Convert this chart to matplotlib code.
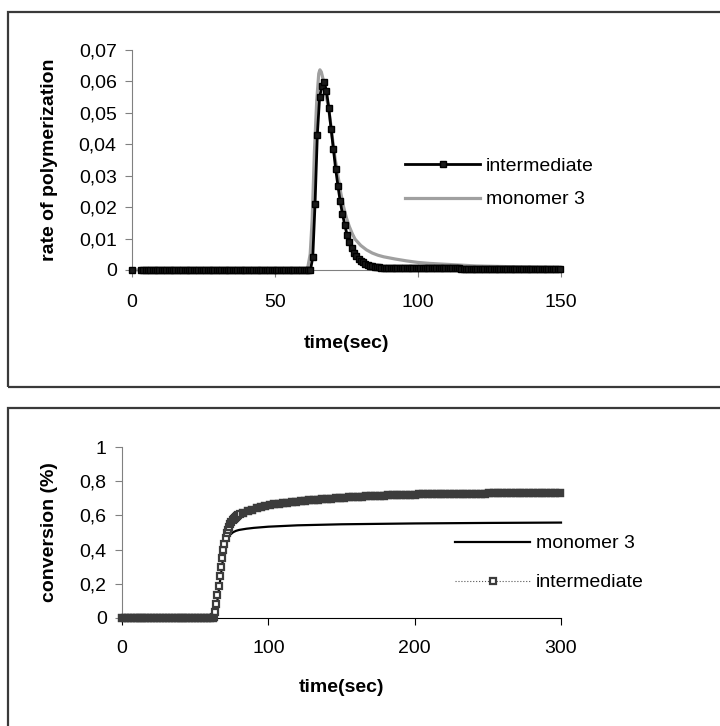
import numpy as np
import matplotlib
matplotlib.use("Agg")
import matplotlib.pyplot as plt
from matplotlib.patches import Rectangle
from matplotlib.ticker import FuncFormatter

plt.rcParams['font.family'] = ['Liberation Sans', 'DejaVu Sans']
plt.rcParams['font.size'] = 14

# ---- top chart: rate of polymerization ----
RATE_STEP = 0.8  # sampling step of the intermediate series (sec)
nan = float('nan')
rate_int_head = [0.0, nan, nan, nan] + [0.0] * 75
rate_int_peak = [0.004, 0.021, 0.043, 0.055, 0.0585, 0.0597, 0.0570, 0.0515,
                 0.0450, 0.0385, 0.0322, 0.0268, 0.0218, 0.0178, 0.0143,
                 0.0112, 0.0088, 0.0070, 0.0055, 0.0044, 0.0036, 0.0029,
                 0.0024, 0.0020, 0.0017, 0.0014, 0.0012, 0.0010, 0.0009,
                 0.0008, 0.0007, 0.0007, 0.0006, 0.0006, 0.0005]
rate_int_tail = [0.0005] * 30 + [0.0004] * 44
rate_intermediate = rate_int_head + rate_int_peak + rate_int_tail

t_rate_mono = [0, 60.5, 61.5, 62.3, 63.0, 63.8, 64.6, 65.3, 65.7, 66.2, 67.0,
               67.8, 68.6, 69.4, 70.2, 71.0, 72.0, 73.0, 74.0, 75.0, 76.0,
               77.0, 78.0, 80.0, 82.0, 84.0, 86.0, 88.0, 92.0, 96.0, 100.0,
               104.0, 108.0, 112.0, 116.0, 120.0, 125.0, 130.0, 140.0, 150.0]
rate_monomer3 = [0, 0, 0.001, 0.005, 0.016, 0.038, 0.054, 0.0625, 0.0637,
                 0.063, 0.060, 0.0555, 0.0525, 0.047, 0.041, 0.0355, 0.030,
                 0.0245, 0.020, 0.0165, 0.0138, 0.0116, 0.0098, 0.0078,
                 0.0064, 0.0054, 0.0047, 0.0042, 0.0035, 0.0029, 0.0024,
                 0.0021, 0.0019, 0.0017, 0.0015, 0.0013, 0.0012, 0.0011,
                 0.0009, 0.0007]

# ---- bottom chart: conversion ----
conv_int_flat = [0.0] * 32          # t = 0..62, every 2 s
conv_int_rise = [0.005, 0.035, 0.08, 0.135, 0.19, 0.245, 0.30, 0.35, 0.395,
                 0.435, 0.468, 0.495, 0.517, 0.535, 0.550, 0.562, 0.572,
                 0.580, 0.587, 0.593, 0.598, 0.603, 0.607]   # t = 62.8.., every 0.8 s
conv_int_plateau = [0.616, 0.625, 0.633, 0.641, 0.648, 0.654,
                    0.660, 0.664, 0.668, 0.672, 0.675, 0.678, 0.681, 0.684, 0.686, 0.688,
                    0.690, 0.692, 0.694, 0.696, 0.698, 0.700, 0.702, 0.704, 0.706, 0.707,
                    0.709, 0.710, 0.712, 0.713, 0.714, 0.715, 0.716, 0.717, 0.718, 0.719,
                    0.720, 0.721, 0.722, 0.722, 0.723, 0.723, 0.724, 0.724, 0.725, 0.725,
                    0.726, 0.726, 0.726, 0.727, 0.727, 0.727, 0.728, 0.728, 0.728, 0.728,
                    0.729, 0.729, 0.729, 0.729, 0.729, 0.730, 0.730, 0.730, 0.730, 0.730,
                    0.730, 0.731, 0.731, 0.731, 0.731, 0.731, 0.731]  # t = 83.., every 3 s

t_conv_mono = [0, 62, 63, 64, 65, 66, 67, 68, 69, 70, 71, 72, 74, 76, 78, 80,
               85, 90, 100, 120, 150, 200, 250, 300]
conv_monomer3 = [0, 0, 0.008, 0.04, 0.09, 0.15, 0.215, 0.28, 0.34, 0.39, 0.43,
                 0.46, 0.488, 0.502, 0.51, 0.515, 0.522, 0.527, 0.534, 0.542,
                 0.548, 0.553, 0.556, 0.558]

t_rate_int = RATE_STEP * np.arange(len(rate_intermediate))
t_flat = 2.0 * np.arange(len(conv_int_flat))
t_rise = 62.8 + 0.8 * np.arange(len(conv_int_rise))
t_plateau = 83.0 + 3.0 * np.arange(len(conv_int_plateau))
t_conv_int = np.concatenate([t_flat, t_rise, t_plateau])
conv_intermediate = conv_int_flat + conv_int_rise + conv_int_plateau


def comma_fmt(decimals):
    def f(v, pos):
        if abs(v) < 1e-9:
            return '0'
        if abs(v - round(v)) < 1e-9:
            return str(int(round(v)))
        return f'{v:.{decimals}f}'.replace('.', ',')
    return FuncFormatter(f)


def style_axes(ax, xpad):
    for s in ['top', 'right']:
        ax.spines[s].set_visible(False)
    ax.spines['left'].set_color('#808080')
    ax.spines['bottom'].set_color('#808080')
    ax.tick_params(axis='x', direction='out', length=5, width=0.8,
                   color='#808080', pad=xpad)
    ax.tick_params(axis='y', direction='out', length=5, width=0.8,
                   color='#808080', pad=6)


W, H = 720, 726
fig = plt.figure(figsize=(W / 100, H / 100), dpi=100)

# chart area borders
fig.patches.append(Rectangle((8 / W, 1 - 387 / H), 1.0, 375 / H,
                             transform=fig.transFigure, fill=False,
                             lw=1.6, ec='#3a3a3a'))
fig.patches.append(Rectangle((8 / W, -0.1), 1.0, 1 - 408 / H + 0.1,
                             transform=fig.transFigure, fill=False,
                             lw=1.6, ec='#3a3a3a'))

# top chart
ax1 = fig.add_axes([132 / W, 1 - 270 / H, 429 / W, 220 / H])
ax1.plot(t_rate_mono, rate_monomer3, color='#a0a0a0', lw=2.3,
         label='monomer 3', clip_on=False, zorder=2)
ax1.plot(t_rate_int, rate_intermediate, color='black', lw=2, marker='s',
         ms=4.2, mfc='#1a1a1a', mec='black', mew=1.0,
         label='intermediate', clip_on=False, zorder=3)
ax1.set_xlim(0, 150)
ax1.set_ylim(0, 0.07)
ax1.set_xticks([0, 50, 100, 150])
ax1.set_yticks(np.arange(0, 0.0701, 0.01))
ax1.yaxis.set_major_formatter(comma_fmt(2))
style_axes(ax1, 12)
ax1.set_xlabel('time(sec)', fontweight='bold', va='center')
ax1.xaxis.set_label_coords(0.5, (270 - 343) / 220)
ax1.set_ylabel('rate of polymerization', fontweight='bold', va='center', ha='center')
ax1.yaxis.set_label_coords((50 - 132) / 429, 0.5)
h, l = ax1.get_legend_handles_labels()
ax1.legend(h[::-1], l[::-1], loc='center left', bbox_to_anchor=(405 / W, 1 - 183 / H),
           bbox_transform=fig.transFigure, frameon=False, borderpad=0,
           borderaxespad=0, handlelength=3.86, handletextpad=0.3,
           labelspacing=0.8, numpoints=1)

# bottom chart
ax2 = fig.add_axes([122 / W, 1 - 618 / H, 439 / W, 171 / H])
ax2.plot(t_conv_mono, conv_monomer3, color='black', lw=1.6,
         label='monomer 3', clip_on=False, zorder=2)
ax2.plot(t_conv_int, conv_intermediate, color='#555555', lw=0.8, ls=':',
         marker='s', ms=4.5, mfc='white', mec='#3c3c3c', mew=1.6,
         label='intermediate', clip_on=False, zorder=3)
# dense markers merge into a solid band where the curve is flat
for tt, vv in [(t_flat, conv_int_flat), (t_plateau, conv_int_plateau)]:
    ax2.plot(tt, vv, ls='none', marker='s', ms=4.5, mfc='#3c3c3c',
             mec='#3c3c3c', mew=1.6, clip_on=False, zorder=3)
ax2.set_xlim(0, 300)
ax2.set_ylim(0, 1)
ax2.set_xticks([0, 100, 200, 300])
ax2.set_yticks([0, 0.2, 0.4, 0.6, 0.8, 1.0])
ax2.yaxis.set_major_formatter(comma_fmt(1))
style_axes(ax2, 11)
ax2.spines['bottom'].set_color('black')
ax2.tick_params(axis='x', color='black')
ax2.set_xlabel('time(sec)', fontweight='bold', va='center')
ax2.xaxis.set_label_coords(0.5, (618 - 688) / 171)
ax2.set_ylabel('conversion (%)', fontweight='bold', va='center', ha='center')
ax2.yaxis.set_label_coords((50 - 122) / 439, 0.5)
h, l = ax2.get_legend_handles_labels()
ax2.legend(h[:2], l[:2], loc='center left', bbox_to_anchor=(455 / W, 1 - 563 / H),
           bbox_transform=fig.transFigure, frameon=False, borderpad=0,
           borderaxespad=0, handlelength=3.86, handletextpad=0.3,
           labelspacing=1.1, numpoints=1)

fig.savefig('out.png', dpi=100)
